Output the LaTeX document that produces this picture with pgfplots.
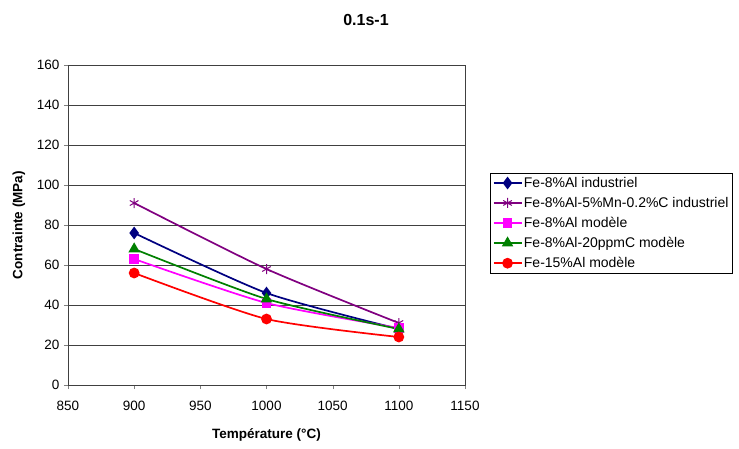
\documentclass[border=0pt]{standalone}
\usepackage{fontspec}
\setmainfont{Liberation Sans}
\usepackage{pgfplots}
\pgfplotsset{compat=1.18}
\definecolor{cblue}{RGB}{0,0,128}
\definecolor{cpurple}{RGB}{128,0,128}
\definecolor{cmag}{RGB}{255,0,255}
\definecolor{cgreen}{RGB}{0,128,0}
\definecolor{cred}{RGB}{255,0,0}
\begin{document}
\begin{tikzpicture}[x=1pt,y=1pt]
\path (0,0) rectangle (739,448);
\node[font=\bfseries\fontsize{16}{18}\selectfont] at (366,428) {0.1s-1};
\begin{axis}[
  at={(68pt,63pt)}, anchor=south west,
  scale only axis, width=397pt, height=320pt,
  xmin=850, xmax=1150, ymin=0, ymax=160,
  xtick={850,900,...,1150}, ytick={0,20,...,160},
  /pgf/number format/assume math mode=true,
  /pgf/number format/set thousands separator={},
  tick label style={font=\fontsize{13.5}{15}\selectfont},
  xticklabel style={yshift=-9pt},
  yticklabel style={xshift=-1pt},
  tick align=outside, tick pos=left,
  major tick length=4pt,
  ymajorgrids, grid style={black!75, line width=0.9pt},
  axis line style={black!75, line width=0.9pt},
  xlabel={\bfseries Température (°C)},
  ylabel={\bfseries Contrainte (MPa)},
  label style={font=\bfseries\fontsize{13.5}{15}\selectfont},
  xlabel style={yshift=-11pt},
  ylabel style={yshift=5pt},
  legend style={at={(1.063,0.6625)}, anchor=north west, draw=black,
    font=\fontsize{14}{16}\selectfont, row sep=5.3pt, inner sep=2.5pt,
    nodes={inner sep=1.5pt}},
  legend image code/.code={\draw[#1, sharp plot] (0pt,0pt) -- (28pt,0pt); \draw[#1, only marks] plot coordinates {(14pt,0pt)};},
  legend cell align=left,
  every axis plot/.append style={line width=1.7pt, smooth, tension=0.4},
]
\addplot[cblue, mark=diamond*, mark size=5pt] coordinates {(900,76) (1000,46) (1100,28)};
\addlegendentry{Fe-8\%Al industriel}
\addplot[cpurple, mark=asterisk, mark size=5pt, mark options={line width=1pt}] coordinates {(900,91) (1000,58) (1100,31)};
\addlegendentry{Fe-8\%Al-5\%Mn-0.2\%C industriel}
\addplot[cmag, mark=square*, mark size=4pt] coordinates {(900,63) (1000,41) (1100,28.5)};
\addlegendentry{Fe-8\%Al modèle}
\addplot[cgreen, mark=triangle*, mark size=5pt] coordinates {(900,68) (1000,43) (1100,28)};
\addlegendentry{Fe-8\%Al-20ppmC modèle}
\addplot[cred, mark=*, mark size=4.5pt] coordinates {(900,56) (1000,33) (1100,24)};
\addlegendentry{Fe-15\%Al modèle}
\end{axis}
\end{tikzpicture}
\end{document}
